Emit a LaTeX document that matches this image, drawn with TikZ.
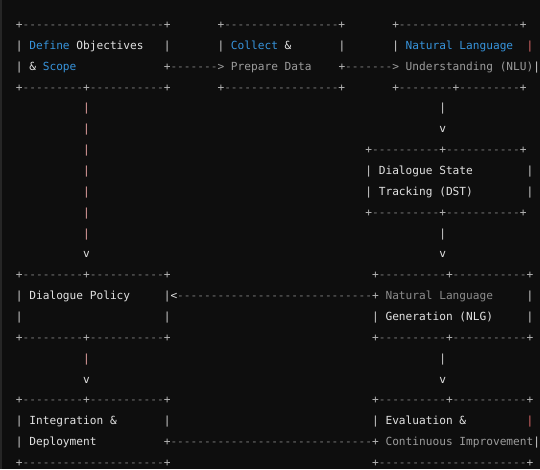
\documentclass[tikz,border=0pt]{standalone}
\usepackage{fontspec}
\setmonofont{DejaVu Sans Mono}
\definecolor{bgc}{HTML}{0E0E0E}
\definecolor{edgec}{HTML}{262626}
\definecolor{dash}{HTML}{7C7C7C}
\definecolor{plusc}{HTML}{B4B4B4}
\definecolor{bar}{HTML}{D2D2D2}
\definecolor{barred}{HTML}{E8A4A4}
\definecolor{redbar}{HTML}{E06A6A}
\definecolor{txt}{HTML}{E2E2E2}
\definecolor{blue}{HTML}{3794DC}
\definecolor{gray}{HTML}{9C9C9C}
\definecolor{dimgray}{HTML}{8C8C8C}
\newcount\dcnt
\newcommand\D[1]{\dcnt=#1\relax\loop\ifnum\dcnt>0 -\advance\dcnt by -1\relax\repeat}
\newcommand\pl{\textcolor{plusc}{+}}
\tikzset{seg/.style={anchor=base west, inner sep=0pt, outer sep=0pt,
  font=\ttfamily\fontsize{11.16}{13}\selectfont}}
\newcommand\seg[5]{\node[seg, text=#4] (#1) at ({15.94+6.72*#2},{28.5+20.86*#3}) {#5};}
\begin{document}
\begin{tikzpicture}[x=1pt,y=-1pt]
\fill[bgc] (0,0) rectangle (540,469);
\useasboundingbox (0,0) rectangle (540,469);
\fill[edgec] (0,0) rectangle (1.5,469);
% row 0
\seg{b0a}{0}{0}{dash}{\pl\D{21}\pl}
\seg{b0b}{30}{0}{dash}{\pl\D{17}\pl}
\seg{b0c}{56}{0}{dash}{\pl\D{18}\pl}
% row 1
\seg{l1a}{0}{1}{bar}{|}
\seg{t1a}{2}{1}{blue}{Define}
\seg{t1b}{9}{1}{txt}{Objectives}
\seg{l1b}{22}{1}{bar}{|}
\seg{l1c}{30}{1}{bar}{|}
\seg{t1c}{32}{1}{blue}{Collect}
\seg{t1d}{40}{1}{txt}{\&}
\seg{l1d}{48}{1}{bar}{|}
\seg{l1e}{56}{1}{bar}{|}
\seg{t1e}{58}{1}{blue}{Natural Language}
\seg{l1f}{76}{1}{redbar}{|}
% row 2
\seg{l2a}{0}{2}{bar}{|}
\seg{t2a}{2}{2}{txt}{\&}
\seg{t2b}{4}{2}{blue}{Scope}
\seg{a2a}{22}{2}{dash}{\pl\D{7}\textcolor{gray}{>}}
\seg{t2c}{32}{2}{gray}{Prepare Data}
\seg{a2b}{48}{2}{dash}{\pl\D{7}\textcolor{gray}{>}}
\seg{t2d}{58}{2}{gray}{Understanding (NLU)}
\seg{l2b}{77}{2}{bar}{|}
% row 3
\seg{b3a}{0}{3}{dash}{\pl\D{9}\pl\D{11}\pl}
\seg{b3b}{30}{3}{dash}{\pl\D{17}\pl}
\seg{b3c}{56}{3}{dash}{\pl\D{8}\pl\D{9}\pl}
% long left vertical
\foreach \r in {4,...,10} {\seg{vl\r}{10}{\r}{barred}{|}}
\seg{vl11}{10}{11}{txt}{v}
% right verticals
\seg{vr4}{63}{4}{bar}{|}
\seg{vr5}{63}{5}{txt}{v}
% DST box
\seg{b6}{52}{6}{dash}{\pl\D{10}\pl\D{11}\pl}
\seg{l7a}{52}{7}{bar}{|}
\seg{t7}{54}{7}{txt}{Dialogue State}
\seg{l7b}{76}{7}{bar}{|}
\seg{l8a}{52}{8}{bar}{|}
\seg{t8}{54}{8}{txt}{Tracking (DST)}
\seg{l8b}{76}{8}{bar}{|}
\seg{b9}{52}{9}{dash}{\pl\D{10}\pl\D{11}\pl}
\seg{vr10}{63}{10}{bar}{|}
\seg{vr11}{63}{11}{txt}{v}
% row 12
\seg{b12a}{0}{12}{dash}{\pl\D{9}\pl\D{11}\pl}
\seg{b12b}{53}{12}{dash}{\pl\D{10}\pl\D{11}\pl}
% row 13
\seg{l13a}{0}{13}{bar}{|}
\seg{t13a}{2}{13}{txt}{Dialogue Policy}
\seg{l13b}{22}{13}{bar}{|}
\seg{a13}{23}{13}{dash}{\textcolor{txt}{<}\D{29}\pl}
\seg{t13b}{55}{13}{dimgray}{Natural Language}
\seg{l13c}{76}{13}{bar}{|}
% row 14
\seg{l14a}{0}{14}{bar}{|}
\seg{l14b}{22}{14}{bar}{|}
\seg{l14c}{53}{14}{bar}{|}
\seg{t14}{55}{14}{txt}{Generation (NLG)}
\seg{l14d}{76}{14}{bar}{|}
% row 15
\seg{b15a}{0}{15}{dash}{\pl\D{9}\pl\D{11}\pl}
\seg{b15b}{53}{15}{dash}{\pl\D{10}\pl\D{11}\pl}
% rows 16-17
\seg{vl16}{10}{16}{barred}{|}
\seg{vl17}{10}{17}{txt}{v}
\seg{vr16}{63}{16}{bar}{|}
\seg{vr17}{63}{17}{txt}{v}
% row 18
\seg{b18a}{0}{18}{dash}{\pl\D{9}\pl\D{11}\pl}
\seg{b18b}{53}{18}{dash}{\pl\D{10}\pl\D{11}\pl}
% row 19
\seg{l19a}{0}{19}{bar}{|}
\seg{t19a}{2}{19}{txt}{Integration \&}
\seg{l19b}{22}{19}{bar}{|}
\seg{l19c}{53}{19}{bar}{|}
\seg{t19b}{55}{19}{txt}{Evaluation \&}
\seg{l19d}{76}{19}{redbar}{|}
% row 20
\seg{l20a}{0}{20}{bar}{|}
\seg{t20a}{2}{20}{txt}{Deployment}
\seg{a20}{22}{20}{dash}{\pl\D{30}\pl}
\seg{t20b}{55}{20}{gray}{Continuous Improvement}
\seg{l20b}{77}{20}{bar}{|}
% row 21
\seg{b21a}{0}{21}{dash}{\pl\D{21}\pl}
\seg{b21b}{53}{21}{dash}{\pl\D{22}\pl}
\end{tikzpicture}
\end{document}
